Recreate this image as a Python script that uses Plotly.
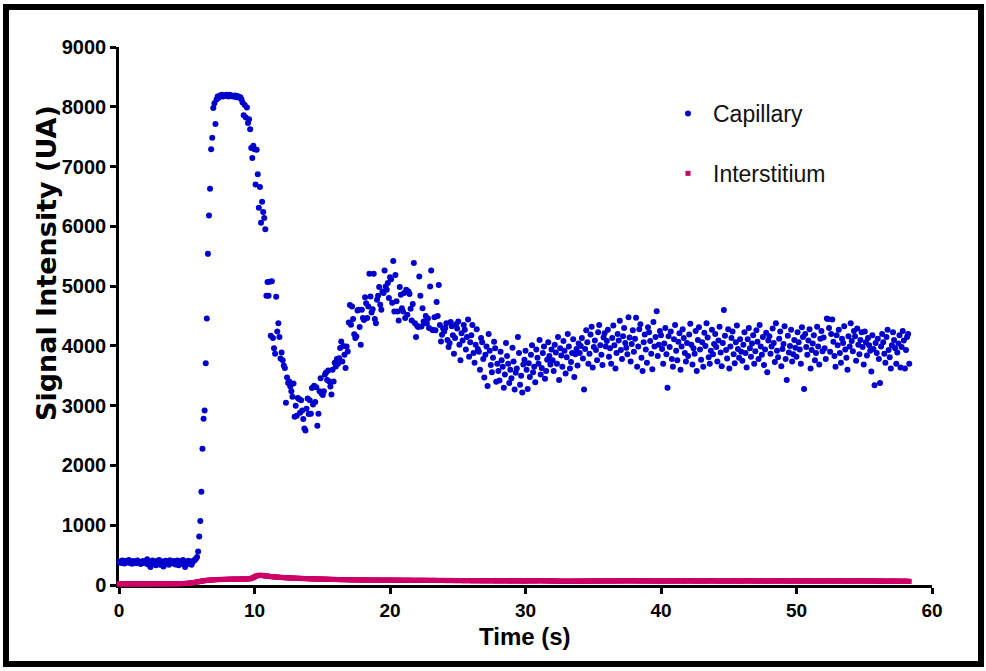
import plotly.graph_objects as go

# Sampling interval of the acquisition (s)
SAMPLE_INTERVAL_S = 0.08

# Capillary signal intensity (UA), one value per sample, 25 samples (2 s) per row
capillary = [
    380, 395, 370, 410, 385, 360, 400, 375, 390, 420, 370, 385, 355, 400, 380, 395, 365, 410, 390, 375, 350, 385, 400, 370, 395,
    360, 430, 345, 390, 300, 375, 410, 350, 385, 330, 400, 365, 420, 340, 380, 395, 310, 370, 405, 355, 385, 340, 415, 360, 390,
    375, 400, 345, 385, 410, 330, 370, 395, 355, 420, 365, 300, 380, 350, 405, 370, 395, 340, 385, 410, 420, 440, 470, 560, 810,
    1070, 1560, 2280, 2780, 2920, 3710, 4460, 5540, 6180, 6630, 7290, 7480, 7980, 8060, 7710, 8120, 8170, 8150, 8190, 8180, 8200, 8170, 8190, 8180, 8200,
    8190, 8170, 8200, 8180, 8190, 8170, 8180, 8190, 8160, 8180, 8170, 8150, 8160, 8120, 8070, 7860, 8030, 7820, 7990, 7730, 7790, 7625, 7310, 7145, 7350,
    7290, 6700, 7280, 6870, 6310, 6660, 6060, 6410, 6240, 6140, 5950, 4840, 5070, 4840, 5075, 4170, 5080, 4130, 3960, 3870, 4820, 4240, 4380, 4150, 3790,
    3890, 3760, 3670, 3630, 3050, 3470, 3380, 3405, 3320, 3240, 3150, 3370, 2815, 3000, 2830, 3130, 3110, 2880, 3090, 2920, 2775, 2620, 2585, 2950, 3120,
    2860, 3090, 2865, 3295, 3020, 3335, 3060, 3310, 2665, 2865, 3240, 3460, 3200, 3180, 3240, 3520, 3555, 3430, 3590, 3405, 3320, 3185, 3600, 3405, 3720,
    3655, 3780, 3700, 3795, 3965, 4075, 3740, 4000, 3850, 3630, 3990, 3905, 4390, 4685, 4355, 4660, 4450, 4195, 4130, 4155, 4590, 4605, 4315, 4020, 4605,
    4465, 4435, 4815, 4715, 4465, 4660, 5205, 4825, 4560, 4615, 5205, 4450, 4380, 4770, 4840, 4985, 4690, 4605, 4910, 4885, 5260, 4995, 4940, 5050, 4800,
    5150, 5115, 4720, 5420, 4575, 5185, 4745, 4575, 4425, 4985, 4855, 4630, 4575, 4885, 4465, 4940, 4520, 4910, 4870, 4620, 4425, 4700, 5385, 4380, 4150,
    4335, 4315, 5160, 4840, 4325, 4630, 4410, 4380, 4500, 4380, 4460, 4300, 4995, 5260, 4270, 4260, 4480, 4260, 4735, 4500, 5020, 4350, 4075, 4185, 4290,
    4240, 4300, 4380, 4100, 3980, 4050, 4400, 4330, 4180, 3870, 4130, 4360, 4290, 4410, 4020, 3760, 4210, 4090, 4350, 4270, 3940, 4150, 4440, 3820, 4060,
    4180, 4350, 3880, 3720, 4020, 4280, 3950, 3900, 3600, 4130, 4060, 3780, 3470, 3850, 3990, 3330, 4200, 3920, 3680, 3560, 3800, 4070, 3960, 3400, 3700,
    3580, 3420, 3900, 3760, 3650, 3300, 3520, 4050, 3830, 3700, 3380, 3600, 3460, 3970, 3740, 3270, 3550, 3620, 4150, 3880, 3350, 3500, 3220, 3690, 3770,
    3920, 3600, 3280, 3710, 3480, 3850, 4010, 3560, 3650, 3390, 3940, 3800, 3700, 4100, 3520, 3630, 3880, 3990, 3450, 3580, 3770, 4060, 3830, 3690, 3940,
    3760, 3580, 4020, 3890, 3700, 4150, 3430, 3960, 3840, 3650, 4080, 3920, 3540, 3810, 4200, 3990, 3620, 3730, 3880, 4110, 3480, 3860, 3950, 3670, 4040,
    3880, 4000, 4130, 3790, 3270, 3950, 4260, 4060, 3700, 3870, 4190, 4320, 3640, 3980, 4090, 3930, 3760, 4230, 4350, 4010, 3850, 3680, 4140, 4210, 3990,
    4080, 4270, 3820, 3960, 3700, 4130, 4340, 4010, 3620, 3880, 4200, 4090, 4420, 3930, 3780, 4160, 4300, 4050, 3970, 3860, 4480, 4140, 3740, 4030, 4260,
    3900, 4120, 4470, 3650, 3990, 4280, 4360, 3800, 3580, 4060, 4190, 3940, 3720, 4310, 4230, 4080, 3870, 3610, 4400, 3990, 4150, 4580, 3830, 4020, 4250,
    4180, 3950, 3700, 4040, 4300, 3860, 3300, 4160, 3980, 4240, 3780, 3650, 4110, 4350, 3920, 3760, 4070, 4210, 3600, 3990, 4280, 4130, 3880, 3740, 4050,
    3830, 4190, 4370, 4020, 3690, 3960, 3870, 4250, 3580, 4100, 4310, 3940, 3770, 4060, 3650, 4220, 4000, 4380, 4140, 3810, 3700, 3920, 4270, 3860, 4030,
    4200, 3980, 3740, 4090, 4320, 3890, 3660, 4050, 4600, 4170, 3930, 3790, 4280, 3620, 3990, 4130, 4240, 3860, 3710, 4060, 4340, 3950, 3800, 4110, 3900,
    3750, 4020, 4230, 3880, 3640, 4110, 4300, 3960, 3820, 4040, 4180, 3700, 3910, 4260, 4070, 3780, 4350, 3990, 3850, 4150, 3680, 3940, 4220, 3560, 4090,
    4160, 3870, 3990, 4290, 4050, 3730, 4380, 3920, 3810, 4120, 4240, 3660, 3950, 4030, 4330, 3780, 3430, 4170, 3890, 4000, 4270, 3740, 3860, 4100, 3970,
    3820, 4230, 4060, 3940, 3700, 4310, 4150, 3280, 4200, 3980, 3850, 4090, 4280, 3620, 3930, 4040, 4180, 3760, 3880, 4320, 3990, 3690, 4120, 4250, 3910,
    4140, 3960, 3780, 4460, 4450, 4300, 3900, 4200, 4440, 4070, 3830, 3650, 4180, 4010, 4270, 3880, 3720, 4120, 4050, 4330, 3940, 3800, 3600, 4160, 3990,
    4380, 4080, 3910, 4250, 4160, 3750, 4290, 4020, 3860, 4100, 4230, 3980, 3690, 4240, 4060, 3840, 4130, 4010, 3920, 3570, 4180, 3950, 3340, 4050, 3880,
    4120, 3780, 3380, 3990, 4200, 4060, 3870, 3720, 4150, 4270, 3930, 3810, 3620, 4010, 4230, 4100, 3960, 3700, 3890, 4040, 4180, 3640, 3980, 4250, 4090,
    3620, 3930, 4150, 4200, 3700,
]

# Interstitium signal intensity (UA), same sampling
interstitium = [
    18, 20, 17, 21, 19, 22, 18, 20, 16, 19, 21, 18, 20, 17, 22, 19, 18, 21, 20, 17, 19, 22, 18, 20, 19,
    21, 18, 20, 19, 22, 17, 20, 21, 19, 18, 22, 20, 19, 21, 18, 20, 23, 19, 21, 20, 18, 22, 20, 21, 19,
    22, 20, 21, 23, 19, 22, 24, 21, 23, 25, 24, 27, 26, 29, 31, 30, 34, 36, 38, 41, 43, 47, 50, 54, 57,
    60, 64, 67, 70, 73, 75, 78, 80, 79, 83, 85, 84, 87, 89, 88, 90, 92, 91, 93, 90, 94, 92, 95, 93, 96,
    94, 97, 95, 98, 96, 99, 97, 100, 98, 96, 99, 101, 98, 100, 102, 99, 101, 98, 103, 100, 102, 105, 110, 118, 126,
    135, 145, 152, 158, 162, 160, 163, 158, 161, 155, 150, 152, 146, 148, 141, 143, 138, 140, 134, 136, 131, 133, 128, 130, 126,
    128, 124, 126, 121, 123, 119, 122, 117, 120, 115, 118, 113, 116, 112, 114, 110, 113, 108, 111, 107, 110, 106, 109, 105, 107,
    104, 106, 102, 105, 101, 103, 100, 102, 99, 101, 98, 100, 97, 99, 96, 98, 95, 97, 94, 96, 93, 95, 92, 94, 93,
    91, 93, 90, 92, 89, 91, 88, 90, 92, 89, 87, 90, 88, 86, 89, 87, 85, 88, 86, 84, 87, 85, 83, 86, 84,
    85, 83, 86, 84, 82, 85, 83, 81, 84, 82, 80, 83, 81, 84, 82, 80, 83, 81, 79, 82, 80, 83, 81, 79, 82,
    80, 82, 79, 81, 83, 80, 78, 81, 79, 82, 80, 78, 81, 79, 77, 80, 78, 81, 79, 77, 80, 78, 76, 79, 77,
    79, 77, 80, 78, 76, 79, 77, 80, 78, 76, 79, 77, 75, 78, 76, 79, 77, 75, 78, 76, 74, 77, 75, 78, 76,
    74, 77, 75, 73, 76, 74, 77, 75, 73, 76, 74, 72, 75, 73, 76, 74, 72, 75, 73, 71, 74, 72, 75, 73, 71,
    74, 72, 70, 73, 71, 74, 72, 70, 73, 71, 69, 72, 70, 73, 71, 69, 72, 70, 73, 71, 69, 72, 70, 68, 71,
    69, 72, 70, 68, 71, 69, 72, 70, 68, 71, 69, 67, 70, 68, 71, 69, 67, 70, 68, 71, 69, 67, 70, 68, 66,
    69, 67, 70, 68, 71, 69, 72, 70, 68, 71, 69, 72, 70, 73, 71, 69, 72, 70, 68, 71, 69, 67, 70, 68, 66,
    68, 66, 64, 67, 65, 63, 66, 64, 62, 65, 63, 61, 64, 62, 65, 63, 61, 64, 62, 65, 63, 66, 64, 62, 65,
    63, 66, 64, 67, 65, 63, 66, 64, 67, 65, 68, 66, 64, 67, 65, 68, 66, 69, 67, 65, 68, 66, 69, 67, 70,
    68, 66, 69, 67, 70, 68, 66, 69, 67, 70, 68, 71, 69, 67, 70, 68, 71, 69, 72, 70, 68, 71, 69, 72, 70,
    68, 71, 69, 67, 70, 68, 71, 69, 67, 70, 68, 66, 69, 67, 70, 68, 66, 69, 67, 65, 68, 66, 69, 67, 65,
    68, 66, 69, 67, 65, 68, 66, 69, 67, 70, 68, 66, 69, 67, 70, 68, 71, 69, 67, 70, 68, 66, 69, 67, 70,
    68, 71, 69, 67, 70, 68, 66, 69, 67, 65, 68, 66, 69, 67, 70, 68, 66, 69, 67, 70, 68, 71, 69, 67, 70,
    68, 66, 69, 67, 65, 68, 66, 64, 67, 65, 68, 66, 69, 67, 65, 68, 66, 69, 67, 70, 68, 66, 69, 67, 65,
    68, 66, 69, 67, 70, 68, 71, 69, 67, 70, 68, 66, 69, 67, 65, 68, 66, 69, 67, 70, 68, 66, 64, 67, 65,
    68, 66, 69, 67, 70, 68, 66, 69, 67, 70, 68, 71, 69, 67, 70, 68, 66, 69, 67, 65, 68, 66, 69, 67, 70,
    68, 66, 69, 67, 65, 68, 66, 69, 67, 70, 68, 66, 69, 67, 65, 68, 66, 64, 67, 65, 68, 66, 69, 67, 65,
    68, 66, 69, 67, 70, 68, 66, 69, 67, 65, 68, 66, 69, 67, 70, 68, 66, 69, 67, 65, 68, 66, 64, 67, 65,
    68, 66, 69, 67, 65, 68, 66, 69, 67, 70, 68, 66, 69, 67, 65, 68, 66, 64, 67, 65, 68, 66, 69, 67, 65,
    63, 66, 64, 67, 65, 63, 66, 64, 62, 65, 63, 66, 64, 67, 65, 63, 66, 64, 62, 65, 63, 61, 64, 62, 65,
    63, 61, 64, 62, 60,
]

time_cap = [i * SAMPLE_INTERVAL_S for i in range(len(capillary))]
time_int = [i * SAMPLE_INTERVAL_S for i in range(len(interstitium))]

x_ticks = [0, 10, 20, 30, 40, 50, 60]
y_ticks = [0, 1000, 2000, 3000, 4000, 5000, 6000, 7000, 8000, 9000]

BLUE = "#0000CC"
MAGENTA = "#CC0066"
FONT = "Liberation Sans, Arial, sans-serif"

fig = go.Figure()
fig.add_trace(go.Scatter(
    x=time_int, y=interstitium, mode="markers", name="Interstitium",
    marker=dict(symbol="square", size=5, color=MAGENTA, line=dict(width=0)),
    cliponaxis=False, legendgroup="b", legendrank=2,
))
fig.add_trace(go.Scatter(
    x=time_cap, y=capillary, mode="markers", name="Capillary",
    marker=dict(symbol="circle", size=6, color=BLUE, line=dict(width=0)),
    cliponaxis=False, legendgroup="a", legendrank=1,
))

L, R, T, B = 119, 54, 47, 86
W, H = 986, 671
pw, ph = W - L - R, H - T - B

def px_x(x):
    return (x - L) / pw

def px_y(y):
    return (H - B - y) / ph

fig.update_layout(
    width=W, height=H,
    margin=dict(l=L, r=R, t=T, b=B, autoexpand=False),
    paper_bgcolor="white", plot_bgcolor="white",
    font=dict(family=FONT, color="black"),
    showlegend=True,
    legend=dict(
        x=px_x(663), y=px_y(92), xanchor="left", yanchor="top",
        font=dict(size=23, family=FONT, color="#111111"),
        bgcolor="rgba(0,0,0,0)", itemwidth=40, tracegroupgap=27,
        traceorder="grouped",
    ),
    xaxis=dict(
        range=[0, 60], tickvals=x_ticks, ticktext=[str(v) for v in x_ticks],
        showgrid=False, zeroline=False, showline=True, linecolor="black", linewidth=2.5,
        ticks="outside", ticklen=6, tickwidth=2.5, tickcolor="black",
        tickfont=dict(size=19, family=FONT, weight="bold", color="black"),
        layer="below traces",
    ),
    yaxis=dict(
        range=[0, 9000], tickvals=y_ticks, ticktext=[str(v) for v in y_ticks],
        showgrid=False, zeroline=False, showline=True, linecolor="black", linewidth=2.5,
        ticks="outside", ticklen=6, tickwidth=2.5, tickcolor="black",
        tickfont=dict(size=20, family=FONT, weight="bold", color="black"),
        layer="below traces",
    ),
)

fig.add_annotation(
    text="<b>Time (s)</b>", xref="paper", yref="paper",
    x=px_x(525), y=px_y(636), xanchor="center", yanchor="middle",
    showarrow=False, font=dict(size=24, family=FONT, color="black"),
)
fig.add_annotation(
    text="<b>Signal Intensity (UA)</b>", xref="paper", yref="paper",
    x=px_x(46), y=px_y(263), xanchor="center", yanchor="middle", textangle=-90,
    showarrow=False, font=dict(size=27, family="DejaVu Sans, " + FONT, color="black"),
)

# outer frame
fig.add_shape(
    type="rect", xref="paper", yref="paper",
    x0=px_x(6), x1=px_x(981), y0=px_y(664), y1=px_y(7),
    line=dict(color="black", width=6), fillcolor="rgba(0,0,0,0)", layer="above",
)

fig.write_html(
    "out.html",
    config={"displayModeBar": False},
    post_script="document.body.style.margin='0';document.body.style.overflow='hidden';",
)
